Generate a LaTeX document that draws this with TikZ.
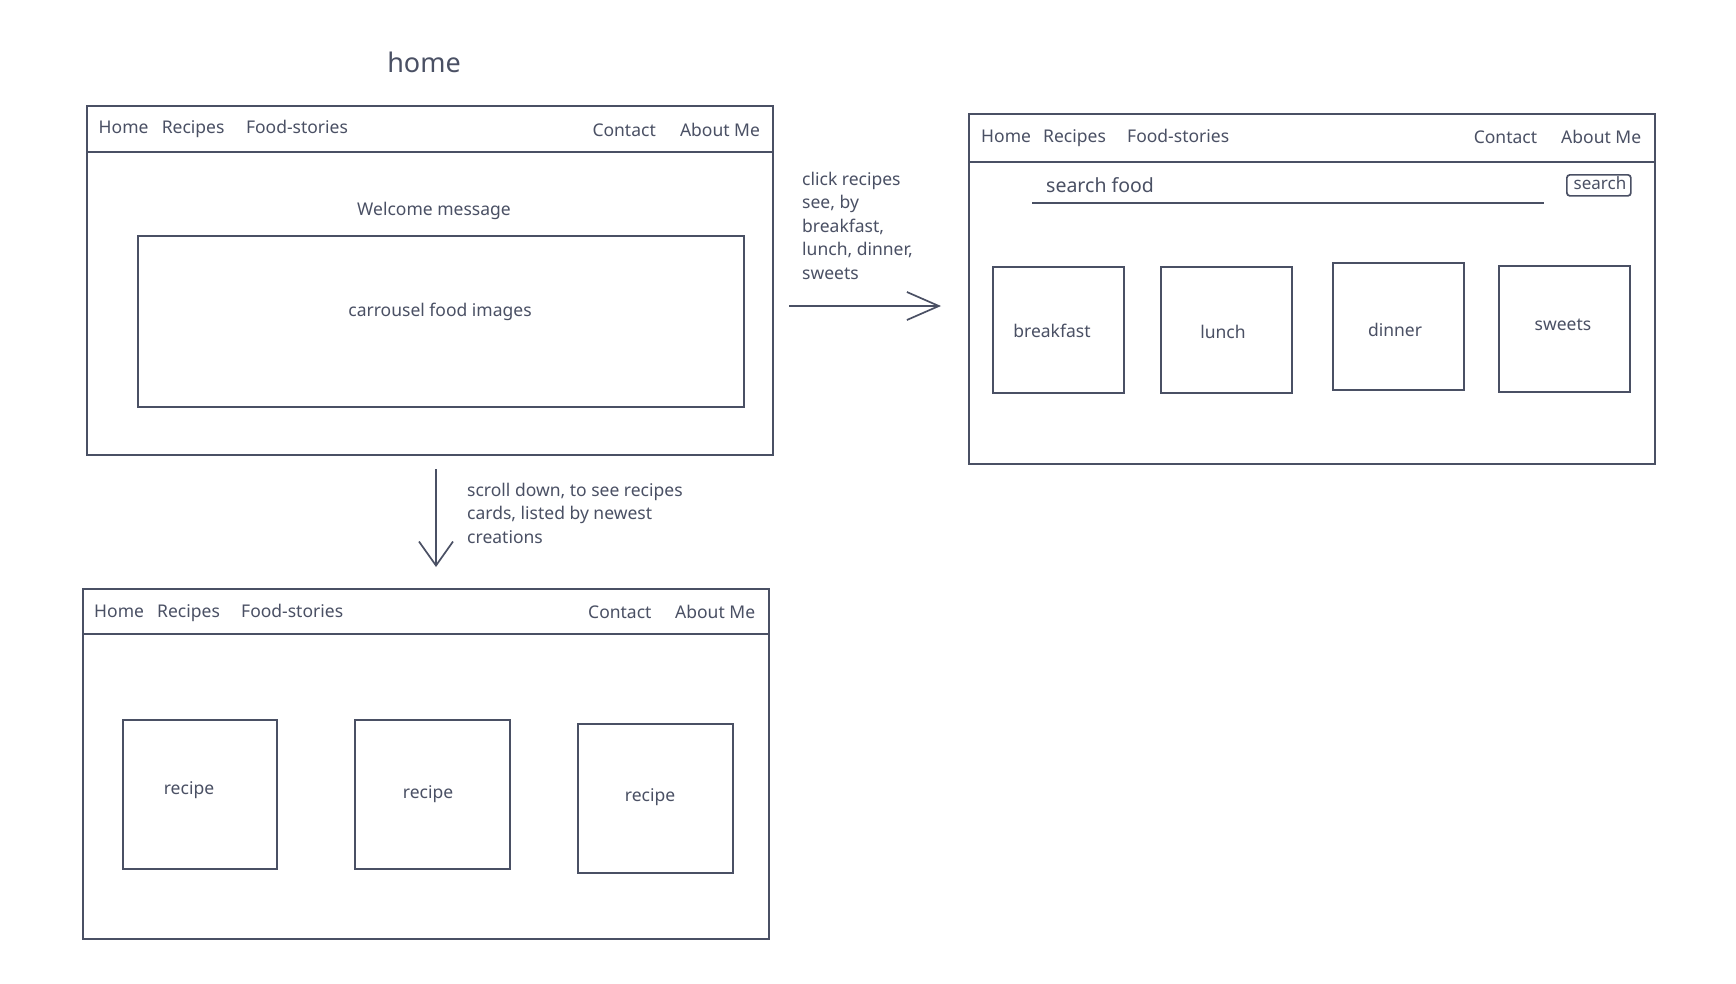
\documentclass[tikz,border=0pt]{standalone}
\usepackage{fontspec}
\setmainfont{Noto Sans}
\usetikzlibrary{arrows.meta}
\definecolor{ink}{RGB}{74,80,100}
\begin{document}
\begin{tikzpicture}[x=1pt,y=-1pt,
  frame/.style={draw=ink, line width=1.7pt, inner sep=0pt, anchor=north west},
  ln/.style={draw=ink, line width=1.7pt},
  nav/.style={anchor=base west, inner sep=0pt, text=ink, font=\fontsize{17.5}{21}\selectfont},
  lbl/.style={inner sep=0pt, text=ink, font=\fontsize{17.5}{21}\selectfont},
  note/.style={anchor=north west, inner sep=0pt, text=ink, align=left, font=\fontsize{17.5}{23.4}\selectfont},
  arrR/.style={ln, -{Straight Barb[length=32pt,width=28pt]}},
  arrD/.style={ln, -{Straight Barb[length=24pt,width=34pt]}}]
\fill[white] (0,0) rectangle (1736,983);
\useasboundingbox (0,0) rectangle (1736,983);

\node[lbl, font=\fontsize{27}{32}\selectfont] (ttl) at (424,62) {home};

% ---- home page
\node[frame, minimum width=686pt, minimum height=349pt] (f1) at (86,105) {};
\draw[ln] ([yshift=-47pt]f1.north west) -- ([yshift=-47pt]f1.north east);
\node[nav] (f1home) at (98.5,133) {Home};
\node[nav] (f1rec) at (161.6,133) {Recipes};
\node[nav] (f1food) at (245.8,133) {Food-stories};
\node[nav] (f1con) at (592.3,136) {Contact};
\node[nav] (f1about) at (679.8,136) {About Me};
\node[lbl] (wel) at (434,211) {Welcome message};
\node[frame, minimum width=606pt, minimum height=171pt] (car) at (137,235) {};
\node[lbl] (cart) at (440,312) {carrousel food images};

% ---- recipes page
\node[frame, minimum width=686pt, minimum height=350pt] (f2) at (968,113) {};
\draw[ln] ([yshift=-49pt]f2.north west) -- ([yshift=-49pt]f2.north east);
\node[nav] (f2home) at (981,142) {Home};
\node[nav] (f2rec) at (1043,142) {Recipes};
\node[nav] (f2food) at (1127,142) {Food-stories};
\node[nav] (f2con) at (1473.6,143) {Contact};
\node[nav] (f2about) at (1561,143) {About Me};
\coordinate (sl1) at (1032,203);
\coordinate (sl2) at (1544,203);
\draw[ln] (sl1) -- (sl2);
\node[nav, font=\fontsize{19.5}{23}\selectfont] (sfood) at (1046,192) {search food};
\node[frame, rounded corners=3pt, minimum width=64pt, minimum height=21pt] (sbtn) at (1566,174) {};
\node[lbl, font=\fontsize{17}{20}\selectfont] (sbtnt) at (1600,183) {search};

\node[frame, minimum width=131pt, minimum height=126pt] (cb) at (992,266) {};
\node[frame, minimum width=131pt, minimum height=126pt] (cl) at (1160,266) {};
\node[frame, minimum width=131pt, minimum height=127pt] (cd) at (1332,262) {};
\node[frame, minimum width=131pt, minimum height=126pt] (cs) at (1498,265) {};
\node[lbl] (cbt) at (1052,331) {breakfast};
\node[lbl] (clt) at (1223,332) {lunch};
\node[lbl] (cdt) at (1395,330) {dinner};
\node[lbl] (cst) at (1563,325) {sweets};

% ---- right arrow
\coordinate (ra1) at (789,306);
\coordinate (ra2) at (941,306);
\draw[arrR] (ra1) -- (ra2);
\node[note] (rnote) at (802,172) {click recipes\\see, by\\breakfast,\\lunch, dinner,\\sweets};

% ---- down arrow
\coordinate (da1) at (436,469);
\coordinate (da2) at (436,567);
\draw[arrD] (da1) -- (da2);
\node[note] (dnote) at (467,483) {scroll down, to see recipes\\cards, listed by newest\\creations};

% ---- scrolled home page
\node[frame, minimum width=686pt, minimum height=350pt] (f3) at (82,588) {};
\draw[ln] ([yshift=-46pt]f3.north west) -- ([yshift=-46pt]f3.north east);
\node[nav] (f3home) at (94,617) {Home};
\node[nav] (f3rec) at (157,617) {Recipes};
\node[nav] (f3food) at (241,617) {Food-stories};
\node[nav] (f3con) at (588,618) {Contact};
\node[nav] (f3about) at (675,618) {About Me};

\node[frame, minimum width=154pt, minimum height=149pt] (r1) at (122,719) {};
\node[frame, minimum width=155pt, minimum height=149pt] (r2) at (354,719) {};
\node[frame, minimum width=155pt, minimum height=149pt] (r3) at (577,723) {};
\node[lbl] (r1t) at (189,790) {recipe};
\node[lbl] (r2t) at (428,794) {recipe};
\node[lbl] (r3t) at (650,797) {recipe};
\end{tikzpicture}
\end{document}
